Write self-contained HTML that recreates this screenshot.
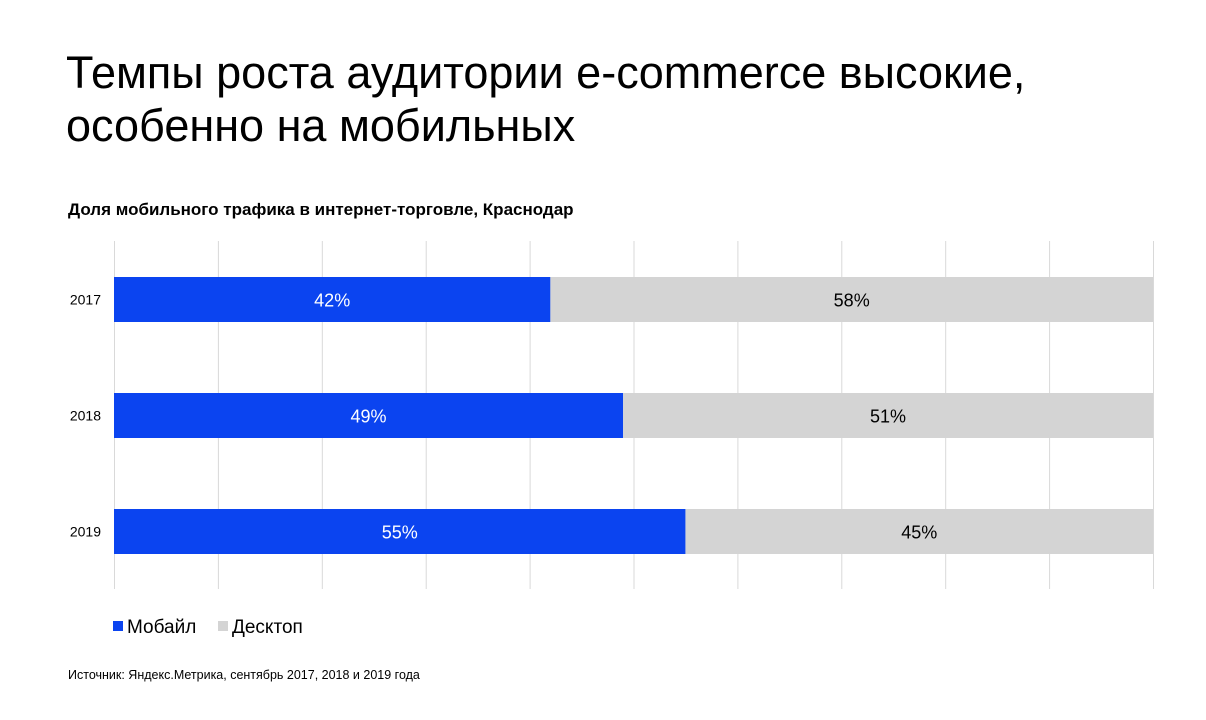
<!DOCTYPE html>
<html><head><meta charset="utf-8"><style>
body{margin:0;width:1206px;height:720px;background:#fff;font-family:"Liberation Sans",sans-serif;overflow:hidden;position:relative}
.t{position:absolute;left:66px;top:46px;font-size:45px;line-height:53px;color:#000;margin:0;font-weight:normal}
.s{position:absolute;left:68px;top:200px;font-size:17px;font-weight:bold}
.src{position:absolute;left:68px;top:668px;font-size:12.5px}
</style></head><body>
<h1 class="t">Темпы роста аудитории e-commerce высокие,<br>особенно на мобильных</h1>
<div class="s">Доля мобильного трафика в интернет-торговле, Краснодар</div>
<svg id="c" width="1206" height="720" style="position:absolute;left:0;top:0"></svg>
<div class="src">Источник: Яндекс.Метрика, сентябрь 2017, 2018 и 2019 года</div>
<script>
const categories=["2017","2018","2019"];
const mobile=[42,49,55];
const desktop=[58,51,45];
const seriesNames=["Мобайл","Десктоп"];
const NS="http://www.w3.org/2000/svg";
const svg=document.getElementById("c");
const x0=114,x1=1153,top0=241,bot=589;
const xs=v=>x0+(x1-x0)*v/100;
const yc=i=>299.5+i*116;
function mk(t,a,p){const e=document.createElementNS(NS,t);for(const k in a)e.setAttribute(k,a[k]);(p||svg).appendChild(e);return e;}
for(let g=0;g<=10;g++){
 const l=mk("line",{x1:xs(g*10)+.5,x2:xs(g*10)+.5,y1:top0,y2:bot,stroke:"#d9d9d9","stroke-width":1});
 
 
}
categories.forEach((c,i)=>{
 const y=yc(i)-22.5,h=45;
 const lb=mk("text",{x:101,y:yc(i)+5,"text-anchor":"end","font-size":14,fill:"#000"});lb.textContent=c;
 
 
 const b1=mk("rect",{x:xs(0),y:y,width:xs(mobile[i])-xs(0),height:h,fill:"#0b44f0"});
 
 
 const b2=mk("rect",{x:xs(mobile[i]),y:y,width:xs(mobile[i]+desktop[i])-xs(mobile[i]),height:h,fill:"#d4d4d4"});
 
 
 const t1=mk("text",{x:(xs(0)+xs(mobile[i]))/2,y:yc(i)+7,"text-anchor":"middle","font-size":18,fill:"#fff"});t1.textContent=mobile[i]+"%";
 
 
 const t2=mk("text",{x:(xs(mobile[i])+xs(100))/2,y:yc(i)+7,"text-anchor":"middle","font-size":18,fill:"#000"});t2.textContent=desktop[i]+"%";
 
 
});
const cols=["#0b44f0","#d4d4d4"],lx=[113,218];
seriesNames.forEach((n,i)=>{
 const g=mk("g",{});
 
 
 mk("rect",{x:lx[i],y:621,width:10,height:10,fill:cols[i]},g);
 const t=mk("text",{x:lx[i]+14,y:633,"font-size":19,fill:"#000"},g);t.textContent=n;
});
</script>
</body></html>
